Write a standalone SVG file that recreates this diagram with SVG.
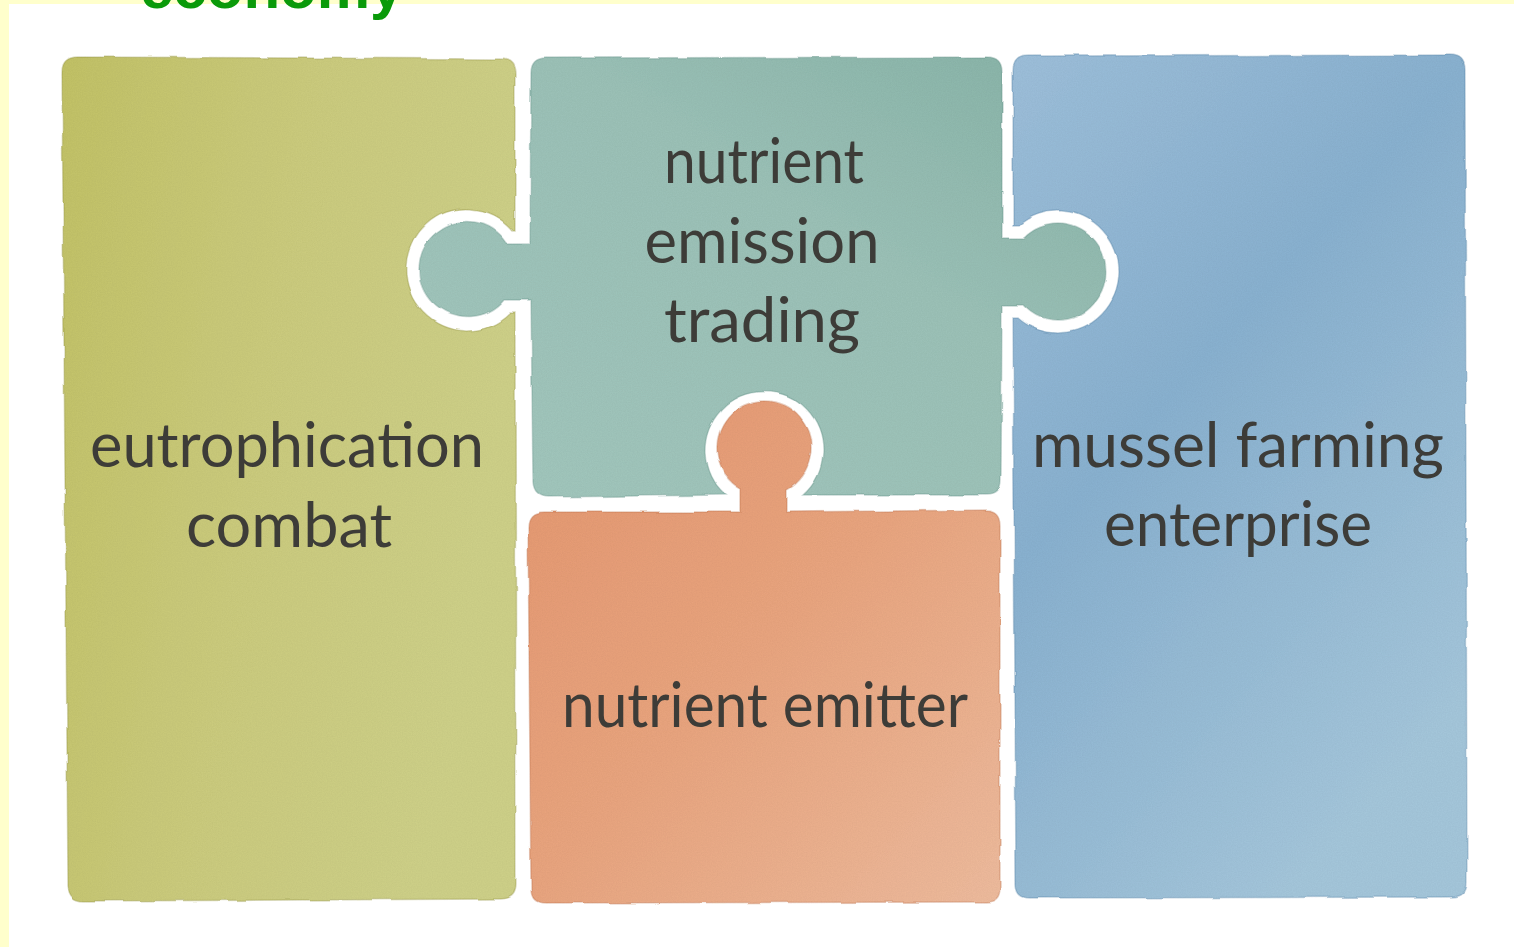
<svg xmlns="http://www.w3.org/2000/svg" width="1514" height="947" viewBox="0 0 1514 947">
  <style>
    .lbl { font-family: Lato, "Open Sans", "Liberation Sans", sans-serif; font-size: 62px; fill: #3d3c38; text-anchor: middle; }
    .title { font-family: "Liberation Sans", Arial, sans-serif; font-weight: bold; font-size: 60px; fill: #0a9a0a; }
    .piece { stroke-width: 1.5; stroke-opacity: 0.3; }
  </style>
  <defs>
    <linearGradient id="gGreen" x1="0" y1="0" x2="1" y2="0.3">
      <stop offset="0" stop-color="#c3c367"/>
      <stop offset="0.5" stop-color="#cccc7e"/>
      <stop offset="1" stop-color="#cfd189"/>
    </linearGradient>
    <linearGradient id="gTeal" x1="0" y1="1" x2="1" y2="0">
      <stop offset="0" stop-color="#a3c8be"/>
      <stop offset="0.6" stop-color="#9cc2b8"/>
      <stop offset="1" stop-color="#88b4a8"/>
    </linearGradient>
    <linearGradient id="gOrange" x1="0" y1="0" x2="1" y2="1">
      <stop offset="0" stop-color="#e69871"/>
      <stop offset="0.5" stop-color="#eaa680"/>
      <stop offset="1" stop-color="#efbc9e"/>
    </linearGradient>
    <linearGradient id="gBlue" x1="0" y1="0" x2="0.6" y2="1">
      <stop offset="0" stop-color="#9ec0db"/>
      <stop offset="0.45" stop-color="#8ab2d1"/>
      <stop offset="1" stop-color="#a5c7dc"/>
    </linearGradient>
    <filter id="paper" x="-2%" y="-2%" width="104%" height="104%">
      <feTurbulence type="fractalNoise" baseFrequency="0.03" numOctaves="2" seed="4" result="edge"/>
      <feDisplacementMap in="SourceGraphic" in2="edge" scale="5" xChannelSelector="R" yChannelSelector="G" result="rough"/>
      <feTurbulence type="fractalNoise" baseFrequency="0.8" numOctaves="2" seed="7" result="grain"/>
      <feColorMatrix in="grain" type="matrix" values="0 0 0 0 0  0 0 0 0 0  0 0 0 0 0  0 0 0 0.1 0" result="grainA"/>
      <feComposite in="grainA" in2="rough" operator="in" result="grainIn"/>
      <feMerge><feMergeNode in="rough"/><feMergeNode in="grainIn"/></feMerge>
    </filter>
  </defs>

  <rect x="0" y="0" width="1514" height="947" fill="#ffffcc"/>
  <rect x="9" y="4" width="1505" height="943" fill="#ffffff"/>
  <text class="title" x="140" y="8">economy</text>

  <g id="node-eutrophication">
    <path class="piece" filter="url(#paper)" fill="url(#gGreen)" stroke="#8f9040"
      d="M78 57 L500 59 Q515 59 515 74 L515 230 L513 230 A61 61 0 1 0 510 313 L515 313 L516 884 Q516 899 501 899 L84 901 Q69 901 68 886 L62 72 Q62 57 78 57 Z"/>
    <text class="lbl" x="287" y="467" textLength="394" lengthAdjust="spacingAndGlyphs">eutrophication</text>
    <text class="lbl" x="289" y="547" textLength="206" lengthAdjust="spacingAndGlyphs">combat</text>
  </g>

  <g id="node-trading">
    <path class="piece" filter="url(#paper)" fill="url(#gTeal)" stroke="#5f8f85"
      d="M546 58 L987 57 Q1002 57 1002 72 L1002 238 L1024 238 A48 48 0 1 1 1023 305 L1002 305 L1001 481 Q1001 495 987 495 L803 495 A59 59 0 1 0 725 495 L548 497 Q534 497 533 483 L531 300 L504 300 A48 48 0 1 1 507 243 L530 243 L531 73 Q531 58 546 58 Z"/>
    <text class="lbl" x="764" y="183" textLength="200" lengthAdjust="spacingAndGlyphs">nutrient</text>
    <text class="lbl" x="762" y="263" textLength="235" lengthAdjust="spacingAndGlyphs">emission</text>
    <text class="lbl" x="762" y="342" textLength="196" lengthAdjust="spacingAndGlyphs">trading</text>
  </g>

  <g id="node-emitter">
    <path class="piece" filter="url(#paper)" fill="url(#gOrange)" stroke="#b86a45"
      d="M543 512 L741 512 L741 489 A47 47 0 1 1 787 489 L787 512 L986 510 Q1000 510 1000 525 L1000 888 Q1000 902 986 902 L545 903 Q531 903 531 889 L528 527 Q528 512 543 512 Z"/>
    <text class="lbl" x="765" y="727" textLength="406" lengthAdjust="spacingAndGlyphs">nutrient emitter</text>
  </g>

  <g id="node-mussel">
    <path class="piece" filter="url(#paper)" fill="url(#gBlue)" stroke="#4f7da3"
      d="M1028 56 L1450 55 Q1465 55 1465 70 L1467 882 Q1467 897 1452 897 L1030 898 Q1016 898 1016 884 L1013 318 L1018 318 A61 61 0 1 0 1019 225 L1013 225 L1013 71 Q1013 56 1028 56 Z"/>
    <text class="lbl" x="1238" y="467" textLength="412" lengthAdjust="spacingAndGlyphs">mussel farming</text>
    <text class="lbl" x="1238" y="546" textLength="268" lengthAdjust="spacingAndGlyphs">enterprise</text>
  </g>

  <g id="connectors"/>
</svg>
